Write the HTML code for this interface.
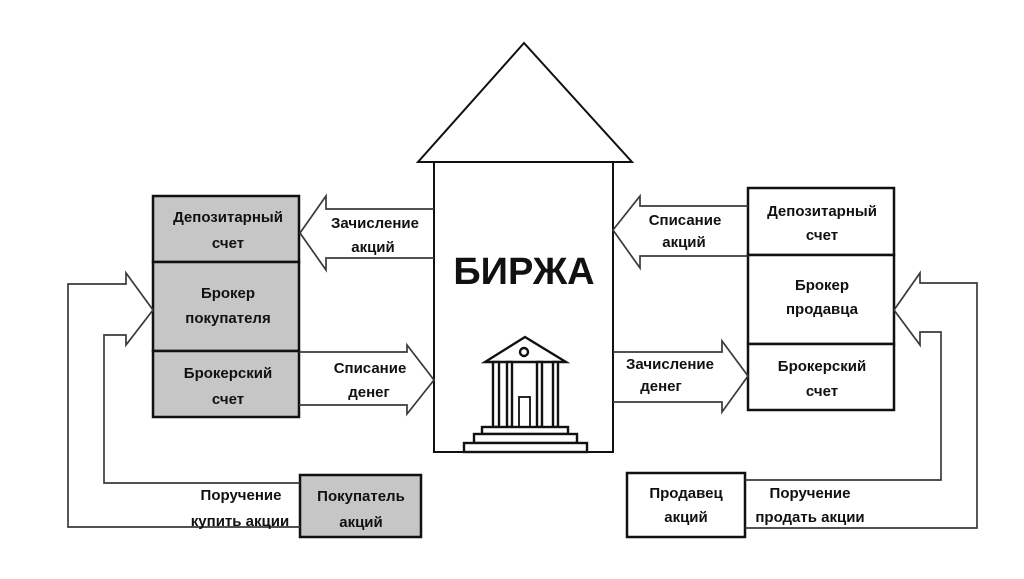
<!DOCTYPE html>
<html><head><meta charset="utf-8"><style>
html,body{margin:0;padding:0;background:#fff;}
svg text{font-family:"Liberation Sans",Arial,sans-serif;font-weight:bold;fill:#111;text-anchor:middle;}
</style></head><body>
<svg width="1024" height="574" viewBox="0 0 1024 574" xmlns="http://www.w3.org/2000/svg">
<g fill="none" stroke="#111" stroke-width="2">
<polygon points="524,43 418,162 632,162" fill="#fff"/>
<rect x="434" y="162" width="179" height="290" fill="#fff"/>
</g>
<text x="524" y="284" style="font-size:38px">БИРЖА</text>
<g stroke="#111" stroke-width="2.4" fill="#fff">
<polygon points="525,337 485,362 566,362"/>
<circle cx="524" cy="352" r="4"/>
<rect x="493" y="362" width="6" height="65"/>
<rect x="507" y="362" width="5" height="65"/>
<rect x="537" y="362" width="5" height="65"/>
<rect x="553" y="362" width="5" height="65"/>
<rect x="519" y="397" width="11" height="30" stroke-width="1.8"/>
<rect x="482" y="427" width="86" height="7"/>
<rect x="474" y="434" width="103" height="9"/>
<rect x="464" y="443" width="123" height="9"/>
</g>
<g stroke="#111" stroke-width="2.5" fill="#c6c6c6">
<rect x="153" y="196" width="146" height="66"/>
<rect x="153" y="262" width="146" height="89"/>
<rect x="153" y="351" width="146" height="66"/>
<rect x="300" y="475" width="121" height="62"/>
</g>
<g stroke="#111" stroke-width="2.5" fill="#fff">
<rect x="748" y="188" width="146" height="67"/>
<rect x="748" y="255" width="146" height="89"/>
<rect x="748" y="344" width="146" height="66"/>
<rect x="627" y="473" width="118" height="64"/>
</g>
<g stroke="#3a3a3a" stroke-width="1.7" fill="none">
<polyline points="434,209 326,209 326,196 300,233 326,270 326,258 434,258"/>
<polyline points="299,352 407,352 407,345 434,380 407,414 407,405 299,405"/>
<polyline points="748,206 640,206 640,196 613,230 640,268 640,256 748,256"/>
<polyline points="613,352 722,352 722,341 748,376 722,412 722,402 613,402"/>
<polyline points="300,527 68,527 68,284 126,284 126,273 153,310 126,345 126,335 104,335 104,483 300,483"/>
<polyline points="745,528 977,528 977,283 920,283 920,273 894,310 920,345 920,332 941,332 941,480 745,480"/>
</g>
<g style="font-size:15px">
<text x="228" y="222">Депозитарный</text><text x="228" y="248">счет</text>
<text x="228" y="298">Брокер</text><text x="228" y="323">покупателя</text>
<text x="228" y="378">Брокерский</text><text x="228" y="404">счет</text>
<text x="361" y="501">Покупатель</text><text x="361" y="527">акций</text>
<text x="241" y="500">Поручение</text><text x="240" y="526">купить акции</text>
<text x="375" y="228">Зачисление</text><text x="373" y="252">акций</text>
<text x="370" y="373">Списание</text><text x="369" y="397">денег</text>
<text x="822" y="216">Депозитарный</text><text x="822" y="240">счет</text>
<text x="822" y="290">Брокер</text><text x="822" y="314">продавца</text>
<text x="822" y="371">Брокерский</text><text x="822" y="396">счет</text>
<text x="686" y="498">Продавец</text><text x="686" y="522">акций</text>
<text x="810" y="498">Поручение</text><text x="810" y="522">продать акции</text>
<text x="685" y="225">Списание</text><text x="684" y="247">акций</text>
<text x="670" y="369">Зачисление</text><text x="661" y="391">денег</text>
</g>
</svg>
</body></html>
